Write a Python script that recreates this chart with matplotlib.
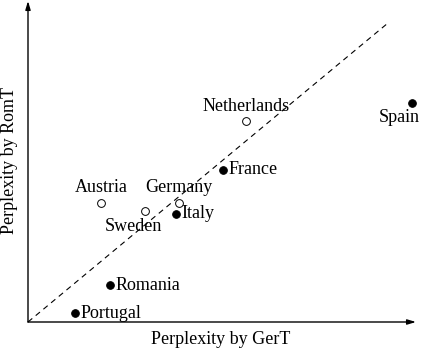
import matplotlib
matplotlib.use("Agg")
import matplotlib.pyplot as plt

# countries and their perplexities (arbitrary units)
countries = ["Portugal", "Romania", "Austria", "Sweden", "Germany",
             "Italy", "France", "Netherlands", "Spain"]
ger_t = [47, 82, 73, 117, 151, 148, 195, 218, 384]
rom_t = [9, 37, 119, 111, 119, 108, 152, 201, 219]
romance = [True, True, False, False, False, True, True, False, True]

# label placement: offset in points, horizontal and vertical alignment
label_pos = {
    "Portugal": ((4, 0), "left", "center"),
    "Romania": ((4, 0), "left", "center"),
    "Austria": ((0, 5), "center", "bottom"),
    "Sweden": ((-8, -5), "center", "top"),
    "Germany": ((0, 5), "center", "bottom"),
    "Italy": ((4, 0), "left", "center"),
    "France": ((4, 0), "left", "center"),
    "Netherlands": ((0, 4), "center", "bottom"),
    "Spain": ((-9, -4), "center", "top"),
}

plt.rcParams['font.family'] = ['Liberation Serif', 'DejaVu Serif']

fig = plt.figure(figsize=(4.23, 3.48), dpi=100)
ax = fig.add_axes([0, 0, 1, 1])
ax.set_xlim(-28, 395)
ax.set_ylim(-26, 322)
ax.axis("off")

# axes with arrows
arrow = dict(arrowstyle="-|>,head_length=0.5,head_width=0.15", lw=1.0,
             color="black", shrinkA=0, shrinkB=0)
ax.annotate("", xy=(388, 0), xytext=(0, 0), arrowprops=arrow)
ax.annotate("", xy=(0, 321), xytext=(0, 0), arrowprops=arrow)

# diagonal
ax.plot([0, 360], [0, 299], ls=(0, (5, 4)), lw=0.8, color="black")

for name, x, y, filled in zip(countries, ger_t, rom_t, romance):
    ax.plot(x, y, "o", ms=5.5 if filled else 5.6,
            mfc="black" if filled else "white", mec="black",
            mew=0.7, zorder=3)
    off, ha, va = label_pos[name]
    ax.annotate(name, (x, y), xytext=off, textcoords="offset points",
                ha=ha, va=va, fontsize=13)

ax.text(193, -25.5, "Perplexity by GerT", ha="center", va="bottom",
        fontsize=13)
ax.text(-19, 161, "Perplexity by RomT", ha="center", va="center",
        rotation=90, fontsize=13)

fig.savefig("out.png", dpi=100)
